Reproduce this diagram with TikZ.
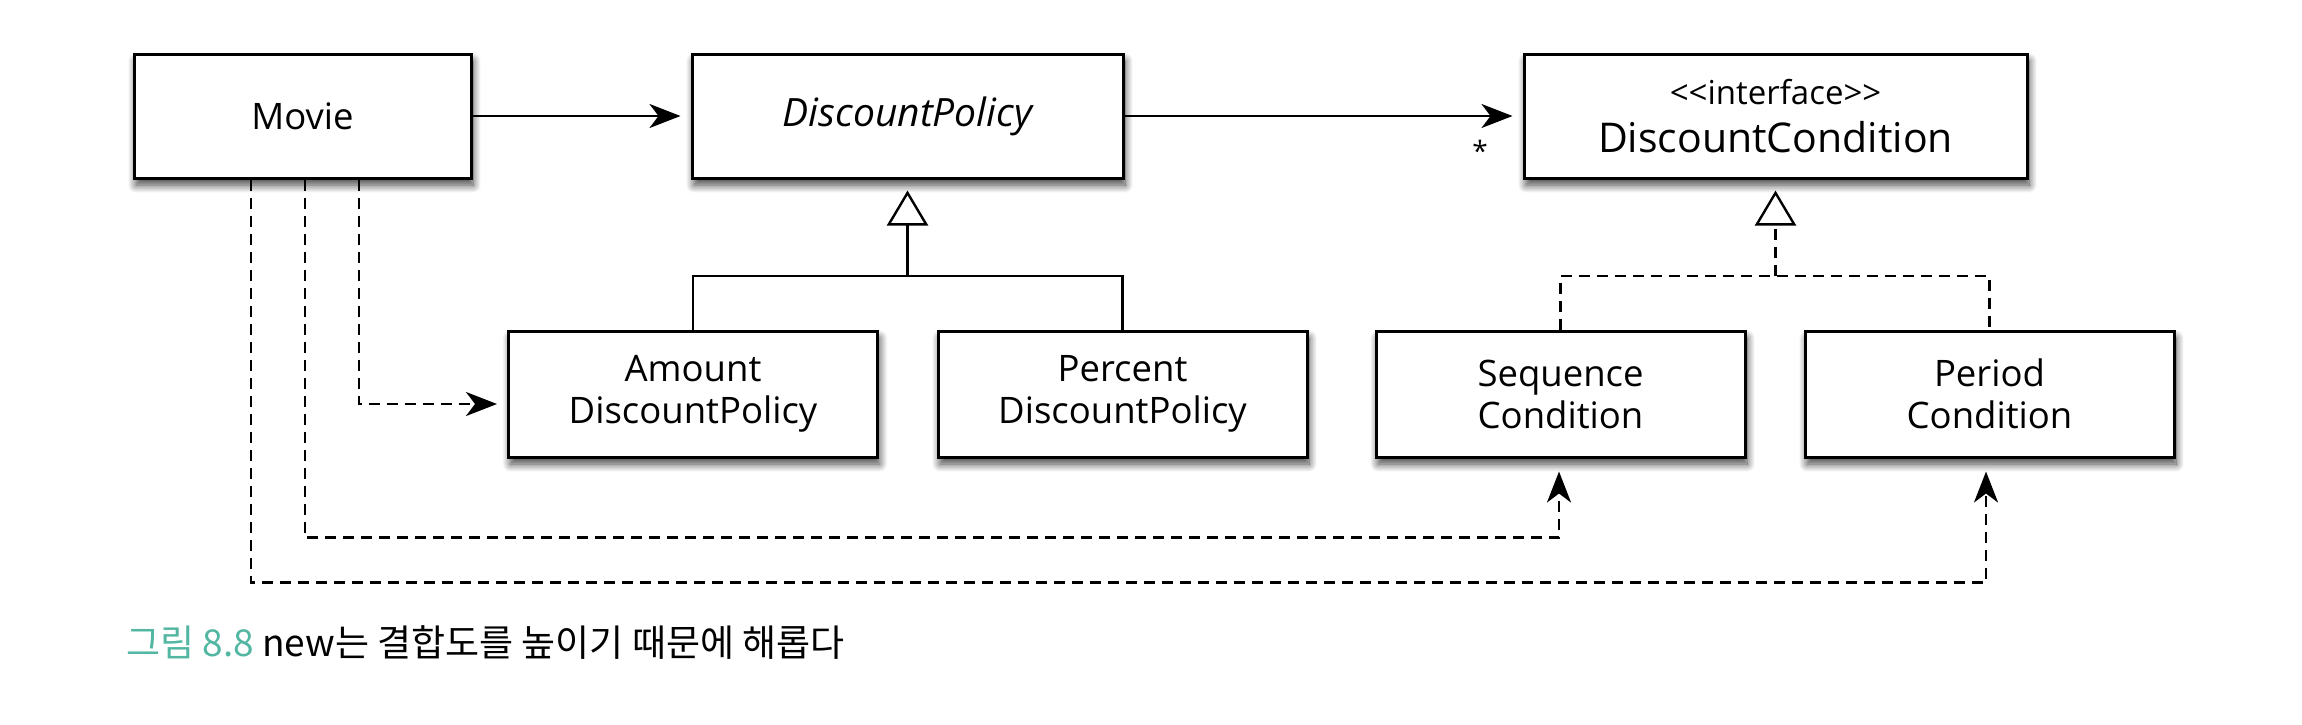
\documentclass[tikz,border=0pt]{standalone}
\usepackage{fontspec}
\setmainfont{Open Sans}
\newfontfamily\krfont{Noto Sans CJK KR}
\usetikzlibrary{arrows.meta,shadows.blur}
\definecolor{capteal}{RGB}{82,182,162}
\tikzset{
  box/.style={draw, line width=3pt, fill=white, inner sep=0pt, align=center,
    minimum height=124pt, font=\fontsize{36.5}{42}\selectfont,
    blur shadow={shadow xshift=2pt, shadow yshift=-7pt, shadow blur radius=8pt,
      shadow blur steps=14, shadow opacity=75}},
  conn/.style={line width=2.8pt},
  solidarr/.style={conn, -{Stealth[length=31pt,width=24pt,inset=9pt]}, shorten >=10pt},
  dashline/.style={conn, dash pattern=on 11pt off 7pt},
  dasharr/.style={solidarr, dash pattern=on 11pt off 7pt},
  gen/.style={conn, -{Triangle[length=35pt,width=41pt,fill=white,line width=2.4pt]}, shorten >=11pt},
}
\begin{document}
\begin{tikzpicture}[x=1pt,y=-1pt]
\useasboundingbox (0,0) rectangle (2302,724);
\node[box, minimum width=337pt] (movie) at (302.5,116) {Movie};
\node[box, minimum width=431pt, font=\fontsize{39}{42}\selectfont\itshape] (dp) at (907.5,116) {DiscountPolicy};
\node[box, minimum width=503pt, font=\fontsize{41}{48}\selectfont] (dc) at (1775.5,116)
  {{\fontsize{33}{40}\selectfont <\kern0pt<interface>\kern0pt>}\\DiscountCondition};
\node[box, minimum width=369pt, minimum height=126pt] (amount) at (693,394) {Amount\\DiscountPolicy};
\node[box, minimum width=369pt, minimum height=126pt] (percent) at (1122.5,394) {Percent\\DiscountPolicy};
\node[box, minimum width=369pt, minimum height=126pt] (seq) at (1560.5,394) {Sequence\\Condition};
\node[box, minimum width=369pt, minimum height=126pt] (period) at (1989.5,394) {Period\\Condition};

% associations
\draw[solidarr] (movie) -- (dp);
\draw[solidarr] (dp) -- (dc);
\node[anchor=base, inner sep=0pt, font=\fontsize{28}{28}\selectfont] (star) at (1480,161) {*};

% generalization
\coordinate (gj) at (907.5,276);
\draw[conn] (amount.north) |- (gj) -| (percent.north);
\draw[gen] (gj) -- (dp.south);

% realization
\coordinate (rj) at (1775.5,276);
\draw[dashline] (seq.north) |- (rj) -| (period.north);
\draw[gen, dash pattern=on 11pt off 7pt] (rj) -- (dc.south);

% dependencies from Movie
\draw[dasharr] ([xshift=56.5pt]movie.south) |- ([yshift=-10pt]amount.west);
\draw[dasharr, shorten >=13pt] ([xshift=2.5pt]movie.south) -- ++(0,358) -| ([xshift=-1.5pt]seq.south);
\draw[dasharr, shorten >=13pt] ([xshift=-51.5pt]movie.south) -- ++(0,403) -| ([xshift=-3.5pt]period.south);

% caption
\node[anchor=west, inner sep=0pt, font=\krfont\fontsize{37}{44}\selectfont] (cap) at (126,643)
  {\textcolor{capteal}{그림 8.8} new는 결합도를 높이기 때문에 해롭다};
\end{tikzpicture}
\end{document}
